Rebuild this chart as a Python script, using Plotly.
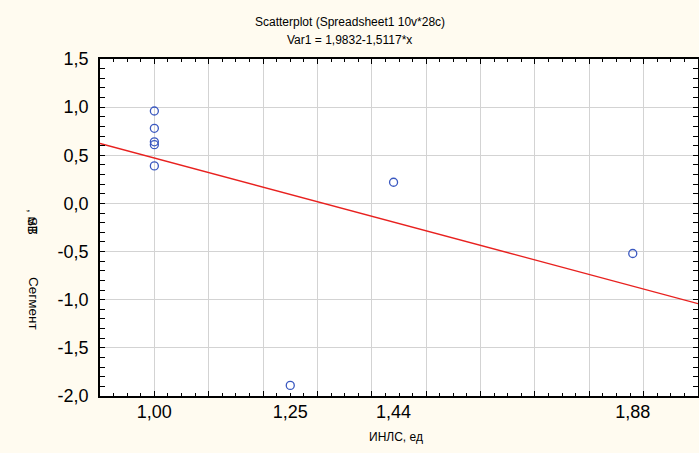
import plotly.graph_objects as go

# Data
inls = [1.00, 1.00, 1.00, 1.00, 1.00, 1.25, 1.44, 1.88]
st_segment = [0.96, 0.78, 0.64, 0.61, 0.39, -1.89, 0.22, -0.52]

# Regression from the subtitle: Var1 = 1,9832 - 1,5117*x
intercept = 1.9832
slope = -1.5117
x_range = [0.9, 2.0]

x_tick_vals = [1.00, 1.25, 1.44, 1.88]
x_tick_text = ["1,00", "1,25", "1,44", "1,88"]
y_tick_vals = [-2.0, -1.5, -1.0, -0.5, 0.0, 0.5, 1.0, 1.5]
y_tick_text = ["-2,0", "-1,5", "-1,0", "-0,5", "0,0", "0,5", "1,0", "1,5"]

FONT = "Liberation Sans, Arial, sans-serif"
BG = "#FFFBF0"

fig = go.Figure()
fig.add_trace(go.Scatter(
    x=x_range, y=[intercept + slope * v for v in x_range],
    mode="lines", line=dict(color="#e8211f", width=1.3),
    showlegend=False, hoverinfo="skip"))
fig.add_trace(go.Scatter(
    x=inls, y=st_segment, mode="markers",
    marker=dict(symbol="circle-open", size=8, color="#3a58c0", line=dict(width=1.3)),
    showlegend=False))
# invisible helper trace for the grid/tick overlay axis
fig.add_trace(go.Scatter(x=[None], y=[None], xaxis="x2", showlegend=False, hoverinfo="skip"))

fig.update_layout(
    width=699, height=453,
    margin=dict(l=100, r=1, t=59, b=57, autoexpand=False),
    paper_bgcolor=BG, plot_bgcolor="#FFFFFF",
    font=dict(family=FONT, color="#000000"),
    xaxis=dict(
        range=x_range, tickmode="array", tickvals=x_tick_vals, ticktext=x_tick_text,
        ticks="", showgrid=False, zeroline=False, automargin=False,
        showline=True, linecolor="#000000", linewidth=1.5, mirror=True,
        tickfont=dict(size=18, family=FONT, color="#000000"), ticklabelstandoff=-1),
    xaxis2=dict(
        range=x_range, overlaying="x", side="bottom", anchor="y", automargin=False,
        tickmode="linear", tick0=1.0, dtick=0.1, showticklabels=False,
        showgrid=True, gridcolor="#d3d3d3", gridwidth=1, zeroline=False,
        ticks="inside", ticklen=5, tickcolor="#000000", tickwidth=1, mirror="allticks",
        showline=False,
        minor=dict(dtick=0.025, tick0=1.0, ticks="inside", ticklen=3,
                   tickcolor="#000000", showgrid=False)),
    yaxis=dict(
        range=[-2.0, 1.5], tickmode="array", tickvals=y_tick_vals, ticktext=y_tick_text,
        showgrid=True, gridcolor="#d3d3d3", gridwidth=1, zeroline=False, automargin=False,
        ticks="inside", ticklen=5, tickcolor="#000000", tickwidth=1,
        showline=True, linecolor="#000000", linewidth=1.5, mirror="allticks",
        tickfont=dict(size=18, family=FONT, color="#000000"), ticklabelstandoff=6,
        minor=dict(dtick=0.1, tick0=0.0, ticks="inside", ticklen=3,
                   tickcolor="#000000", showgrid=False)),
)

annotations = [
    dict(text="Scatterplot (Spreadsheet1 10v*28c)", x=0.418, y=1.1098),
    dict(text="Var1 = 1,9832-1,5117*x", x=0.418, y=1.056),
    dict(text="ИНЛС, ед", x=0.495, y=-0.1217),
]
for a in annotations:
    fig.add_annotation(xref="paper", yref="paper", showarrow=False,
                       xanchor="center", yanchor="middle",
                       font=dict(size=12, family=FONT, color="#000000"), **a)

for txt, yy in [(", мВ", 0.516), ("ST", 0.507), ("Сегмент", 0.276)]:
    fig.add_annotation(text=txt, xref="paper", yref="paper", x=-0.112, y=yy,
                       showarrow=False, textangle=90, xanchor="center", yanchor="middle",
                       font=dict(size=13.5, family=FONT, color="#000000"))

fig.write_html(
    "out.html",
    config={"displayModeBar": False},
    post_script="document.body.style.margin='0';document.body.style.background='" + BG + "';",
)
